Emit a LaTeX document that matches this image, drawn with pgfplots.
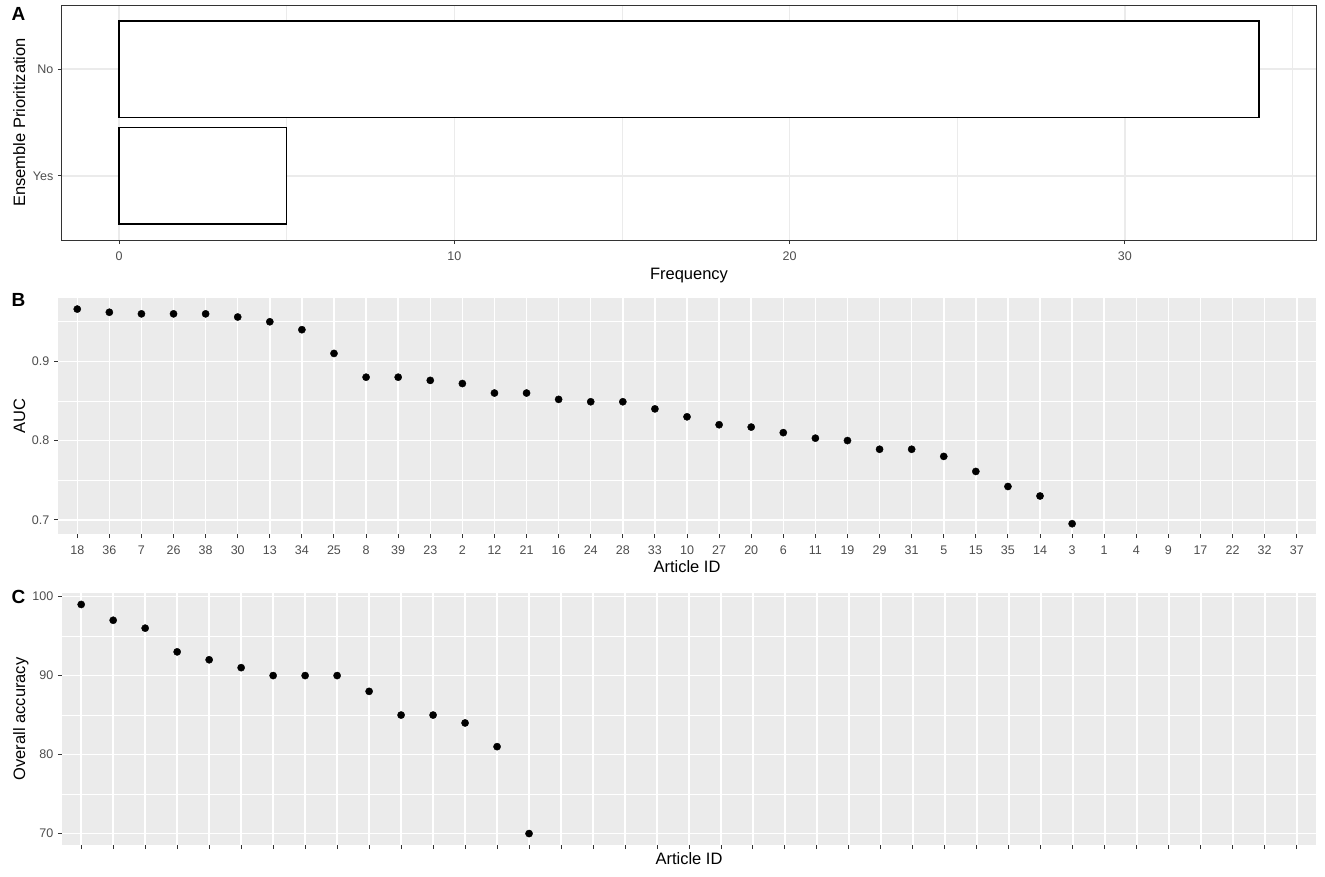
\documentclass[border=0pt]{standalone}
\usepackage{fontspec}
\setmainfont{Liberation Sans}
\usepackage{pgfplots}
\pgfplotsset{compat=1.18}

\definecolor{gg92}{RGB}{235,235,235}
\definecolor{gg20}{RGB}{51,51,51}
\definecolor{gg30}{RGB}{77,77,77}

\pgfplotsset{
  ggbase/.style={
    scale only axis,
    tick align=outside, tick pos=left,
    major tick length=4pt, minor tick length=0pt,
    tick style={gg20, line width=1pt},
    tick label style={font=\fontsize{12.5}{14}\selectfont, text=gg30},
    xticklabel style={font=\fontsize{12.5}{14}\selectfont, anchor=base, inner sep=0pt, yshift=-16pt},
    yticklabel style={font=\fontsize{12.5}{14}\selectfont, anchor=east, inner sep=0pt, xshift=-4.5pt},
    label style={font=\fontsize{16.5}{19}\selectfont, text=black},
    /pgf/number format/assume math mode=true,
  },
  gggray/.style={
    ggbase,
    axis background/.style={fill=gg92},
    axis line style={draw=none},
    grid=both,
    major grid style={white, line width=1.5pt},
    minor grid style={white, line width=0.8pt},
  },
}

\begin{document}
\begin{tikzpicture}
\useasboundingbox (0,0) rectangle (1325pt,-876pt);

% A: frequency of ensemble prioritization
\begin{axis}[ggbase,
  at={(62pt,-240pt)}, anchor=south west,
  width=1254pt, height=235pt,
  xmin=-1.7, xmax=35.7, ymin=0.4, ymax=2.6,
  xtick={0,10,20,30}, minor xtick={5,15,25,35},
  ytick={1,2}, yticklabels={Yes,No},
  grid=both,
  major grid style={gg92, line width=1.2pt},
  minor grid style={gg92, line width=0.6pt},
  axis line style={gg20, line width=1pt},
  xlabel={Frequency}, ylabel={Ensemble Prioritization},
  xlabel style={at={(axis description cs:0.5,-0.166)}, anchor=base},
  ylabel style={at={(axis description cs:-0.0295,0.5)}, anchor=base},
]
\addplot[xbar, bar width=0.9, fill=white, draw=black, line width=1.2pt]
  coordinates {(34,2) (5,1)};
\end{axis}

% B: AUC by article
\begin{axis}[gggray,
  at={(58pt,-534pt)}, anchor=south west,
  width=1258pt, height=236pt,
  xmin=0.4, xmax=39.6, ymin=0.682, ymax=0.980,
  xtick={1,...,39},
  xticklabels={18,36,7,26,38,30,13,34,25,8,39,23,2,12,21,16,24,28,33,10,27,20,6,11,19,29,31,5,15,35,14,3,1,4,9,17,22,32,37},
  ytick={0.7,0.8,0.9}, minor ytick={0.75,0.85,0.95},
  yticklabel style={/pgf/number format/fixed, /pgf/number format/precision=1},
  xlabel={Article ID}, ylabel={AUC},
  xlabel style={at={(axis description cs:0.5,-0.165)}, anchor=base},
  ylabel style={at={(axis description cs:-0.0262,0.5)}, anchor=base},
]
\addplot[only marks, mark=*, mark size=3.6pt, black] coordinates {
  (1,0.966) (2,0.962) (3,0.960) (4,0.960) (5,0.960) (6,0.956) (7,0.950) (8,0.940)
  (9,0.910) (10,0.880) (11,0.880) (12,0.876) (13,0.872) (14,0.860) (15,0.860) (16,0.852)
  (17,0.849) (18,0.849) (19,0.840) (20,0.830) (21,0.820) (22,0.817) (23,0.810) (24,0.803)
  (25,0.800) (26,0.789) (27,0.789) (28,0.780) (29,0.761) (30,0.742) (31,0.730) (32,0.695)
};
\end{axis}

% C: overall accuracy by article
\begin{axis}[gggray,
  at={(62pt,-845pt)}, anchor=south west,
  width=1254pt, height=252pt,
  xmin=0.4, xmax=39.6, ymin=68.55, ymax=100.45,
  xtick={1,...,39}, xticklabels={},
  ytick={70,80,90,100}, minor ytick={75,85,95},
  xlabel={Article ID}, ylabel={Overall accuracy},
  xlabel style={at={(axis description cs:0.5,-0.079)}, anchor=base},
  ylabel style={at={(axis description cs:-0.0295,0.5)}, anchor=base},
]
\addplot[only marks, mark=*, mark size=3.6pt, black] coordinates {
  (1,99) (2,97) (3,96) (4,93) (5,92) (6,91) (7,90) (8,90)
  (9,90) (10,88) (11,85) (12,85) (13,84) (14,81) (15,70)
};
\end{axis}

\node[anchor=base west, font=\bfseries\fontsize{19}{22}\selectfont] at (8pt,-20pt) {A};
\node[anchor=base west, font=\bfseries\fontsize{19}{22}\selectfont] at (8pt,-306pt) {B};
\node[anchor=base west, font=\bfseries\fontsize{19}{22}\selectfont] at (8pt,-603pt) {C};
\end{tikzpicture}
\end{document}
